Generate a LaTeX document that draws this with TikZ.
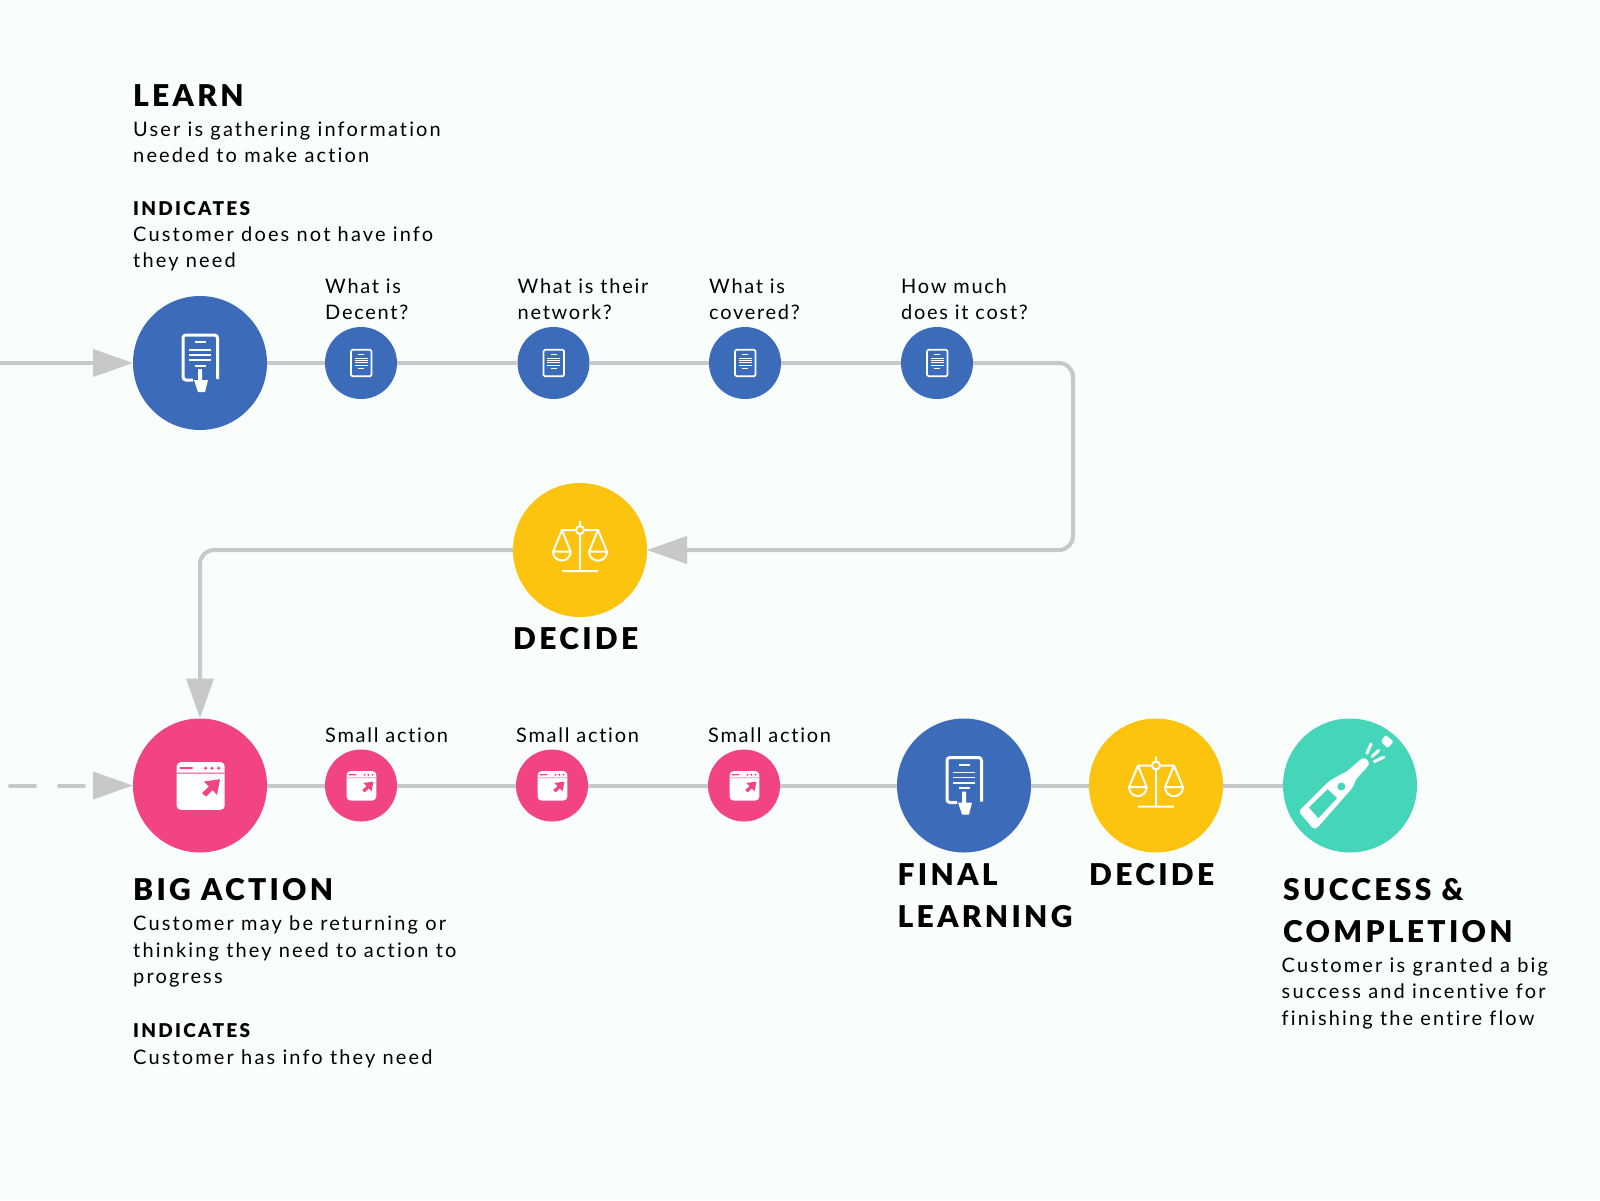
\documentclass[tikz,border=0pt]{standalone}
\usepackage{fontspec}
\usetikzlibrary{arrows.meta}
\newfontfamily\bodyfont[LetterSpace=10.7,Ligatures=NoCommon]{Lato}
\newfontfamily\labelfont[LetterSpace=8.6,Ligatures=NoCommon]{Lato}
\newfontfamily\headfont[LetterSpace=11,Ligatures=NoCommon,BoldFont={Lato Black}]{Lato}
\newfontfamily\subfont[LetterSpace=12,Ligatures=NoCommon,BoldFont={Lato Black}]{Lato}
\definecolor{bluecol}{HTML}{3C6BBA}
\definecolor{yellowcol}{HTML}{FCC30F}
\definecolor{pinkcol}{HTML}{F24382}
\definecolor{greencol}{HTML}{45D6B9}
\definecolor{linecol}{HTML}{C6C8CA}
\definecolor{bgcol}{HTML}{F9FDFC}
\tikzset{
  bigdot/.style={circle,minimum size=134pt,inner sep=0pt,outer sep=0pt,fill=#1},
  smalldot/.style={circle,minimum size=72pt,inner sep=0pt,outer sep=0pt,fill=#1},
  flow/.style={draw=linecol,line width=4pt},
  flowtip/.style={flow,-{Triangle[length=40pt,width=27pt,fill=linecol]}},
  headtext/.style={anchor=base west,inner sep=0pt,align=left,text=black,
    font=\fontsize{30}{42}\selectfont\headfont\bfseries},
  subtext/.style={anchor=base west,inner sep=0pt,align=left,text=black,
    font=\fontsize{19}{26}\selectfont\subfont\bfseries},
  bodytext/.style={anchor=base west,inner sep=0pt,align=left,text=black,
    font=\fontsize{20}{26.3}\selectfont\bodyfont},
  labeltext/.style={bodytext,font=\fontsize{20}{26.3}\selectfont\labelfont},
  pics/bigdoc/.style={code={
    \draw[white,line width=3pt,rounded corners=3pt] (-7,17) -- (-17,17) -- (-17,-28) -- (17.5,-28) -- (17.5,16);
    \draw[white,line width=1.7pt] (-5,-20.7) -- (6,-20.7) (-10.7,-13) -- (10.7,-13)
      (-10.7,-8) -- (10.7,-8) (-10.7,-2.7) -- (10.7,-2.7) (-5,2.7) -- (6,2.7);
    \fill[white] (-2,6) rectangle (2,17) (-6,17) -- (8,17) -- (5,29) -- (-2,29) -- cycle;
  }},
  pics/smalldoc/.style={code={
    \draw[white,line width=1.7pt,rounded corners=1.5pt] (-10,-13.3) rectangle (10.5,13.3);
    \draw[white,line width=1pt] (-3,-9) -- (3,-9) (-6.5,-5) -- (6.5,-5) (-6.5,-2.6) -- (6.5,-2.6)
      (-6.5,-.2) -- (6.5,-.2) (-6.5,2.2) -- (6.5,2.2) (-3,5) -- (3,5);
  }},
  pics/scales/.style={code={
    \draw[white,line width=2pt,line join=round] (0,-29) -- (0,-24) (0,-16) -- (0,21) (-18,21) -- (18,21)
      (-18,-20) -- (18,-20)
      (-9.3,1.7) -- (-18,-20) -- (-27,1.7) -- cycle
      (-27,1.7) arc[start angle=180,end angle=0,radius=8.85] (27,1.7) -- (18,-20) -- (9,1.7) -- cycle
      (9,1.7) arc[start angle=180,end angle=0,radius=9];
    \draw[white,line width=2pt,fill=yellowcol] (0,-20) circle (4pt);
  }},
  pics/window/.style={code={
    \fill[white,rounded corners=4pt] (-23.3,-23.3) rectangle (24.7,24.3);
    \fill[pinkcol] (-23.3,-12.8) rectangle (24.7,-11.8) (-20,-18.3) rectangle (-7.3,-16.3);
    \foreach \dotx in {5.7,12,18.7} \fill[pinkcol] (\dotx,-17.3) circle (1.7pt);
    \fill[pinkcol] (20,-6.3) -- (4,-4) -- (9,1) -- (2,7.5) -- (6,11) -- (12.5,4.5) -- (17,9.5) -- cycle;
  }},
  pics/bottle/.style={code={
    \begin{scope}[scale=.3333,shift={(-239,-227)}]
      \fill[white,rounded corners=2pt] (85,305) -- (175,215) -- (205,197) -- (228,186) -- (272,148)
        -- (282,143) -- (298,157) -- (292,170) -- (258,207) -- (247,233) -- (140,355)
        -- (130,358) -- cycle;
      \fill[greencol] (116,293) -- (172,238) -- (200,265) -- (144,325) -- cycle;
      \fill[greencol] (213,230) circle (12pt);
      \fill[white,rounded corners=1.5pt] (345,75) -- (370,95) -- (352,115) -- (332,95) -- cycle;
      \draw[white,line width=3pt,line cap=round] (290,130) -- (302,102) (305,140) -- (325,122) (312,155) -- (340,142);
    \end{scope}
  }}
}
\begin{document}
\begin{tikzpicture}[x=1pt,y=-1pt]
  \fill[bgcol] (0,0) rectangle (1600,1200);
  \useasboundingbox (0,0) rectangle (1600,1200);

  % main circles
  \node[bigdot=bluecol] (learn) at (200,363) {};
  \node[bigdot=yellowcol] (decide) at (580,550) {};
  \node[bigdot=pinkcol] (action) at (200,785.5) {};
  \node[bigdot=bluecol] (final) at (964,785.5) {};
  \node[bigdot=yellowcol] (lastdecide) at (1156,785.5) {};
  \node[bigdot=greencol] (success) at (1350,785.5) {};
  \pic at (learn) {bigdoc}; \pic at (final) {bigdoc};
  \pic at (decide) {scales}; \pic at (lastdecide) {scales};
  \pic at (action) {window}; \pic at (success) {bottle};

  % small steps
  \foreach \name/\xpos/\lbl in {qa/361/{What is\\Decent?},qb/553.5/{What is their\\network?},
    qc/745/{What is\\covered?},qd/937/{How much\\does it cost?}}{
    \node[smalldot=bluecol] (\name) at (\xpos,363) {};
    \pic at (\name) {smalldoc};
    \node[labeltext] (\name text) at (\xpos-36,319.8) {\lbl};
  }
  \foreach \name/\xpos in {sa/361,sb/552,sc/744}{
    \node[smalldot=pinkcol] (\name) at (\xpos,785.5) {};
    \pic[scale=.62] at (\name) {window};
    \node[labeltext] (\name text) at (\xpos-36,742) {Small action};
  }

  % connectors
  \coordinate (inlearn) at (0,363);
  \coordinate (inaction) at (10,785.5);
  \coordinate (turn) at (1073,450);
  \draw[flowtip] (inlearn) -- (learn);
  \draw[flowtip,dash pattern=on 25pt off 24pt,line cap=round] (inaction) -- (action);
  \foreach \from/\to in {learn/qa,qa/qb,qb/qc,qc/qd,action/sa,sa/sb,sb/sc,sc/final,final/lastdecide,lastdecide/success}
    \draw[flow] (\from) -- (\to);
  \draw[flowtip,rounded corners=14pt] (qd) -| (turn) |- (decide);
  \draw[flowtip,rounded corners=14pt] (decide) -| (action);

  % texts
  \node[headtext] (learnhead) at (133,106.7) {LEARN};
  \node[bodytext] (learnbody) at (133,162.7) {User is gathering information\\needed to make action};
  \node[subtext] (learnsub) at (133,215) {INDICATES};
  \node[bodytext] (learnsubbody) at (133,267.7) {Customer does not have info\\they need};
  \node[headtext] (decidehead) at (513,649) {DECIDE};
  \node[headtext] (actionhead) at (133,900) {BIG ACTION};
  \node[bodytext] (actionbody) at (133,983.5) {Customer may be returning or\\thinking they need to action to\\progress};
  \node[subtext] (actionsub) at (133,1037.7) {INDICATES};
  \node[bodytext] (actionsubbody) at (133,1064) {Customer has info they need};
  \node[headtext] (finalhead) at (897.5,927) {FINAL\\LEARNING};
  \node[headtext] (lasthead) at (1089,885) {DECIDE};
  \node[headtext] (successhead) at (1283,942.7) {SUCCESS \&\\COMPLETION};
  \node[bodytext] (successbody) at (1281.5,1025) {Customer is granted a big\\success and incentive for\\finishing the entire flow};
\end{tikzpicture}
\end{document}
